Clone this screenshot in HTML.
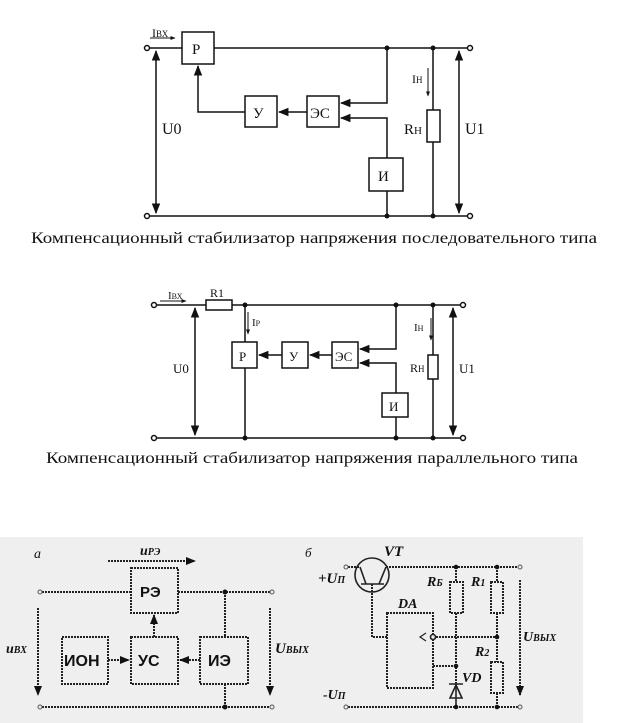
<!DOCTYPE html>
<html><head><meta charset="utf-8"><style>
body{margin:0;background:#fff;width:624px;height:723px;overflow:hidden}
svg{display:block}
text{font-family:"Liberation Serif",serif;fill:#111}
.b{font-family:"Liberation Sans",sans-serif;font-weight:bold}
.i{font-style:italic;font-weight:bold}
</style></head><body>
<svg width="624" height="723" viewBox="0 0 624 723" xmlns="http://www.w3.org/2000/svg">
<defs>
<marker id="a" viewBox="0 0 10 10" refX="9" refY="5" markerWidth="7" markerHeight="7" orient="auto-start-reverse"><path d="M0,1 L10,5 L0,9z" fill="#111"/></marker>
<marker id="s" viewBox="0 0 10 10" refX="9" refY="5" markerWidth="5" markerHeight="5" orient="auto-start-reverse"><path d="M0,1 L10,5 L0,9z" fill="#111"/></marker>
</defs>
<g stroke="#111" stroke-width="1.5" fill="none">
<line x1="149" y1="48" x2="182" y2="48"/><line x1="214" y1="48" x2="467" y2="48"/>
<line x1="149" y1="216" x2="467" y2="216"/>
<circle cx="147" cy="48" r="2.5" fill="#fff"/><circle cx="470" cy="48" r="2.5" fill="#fff"/>
<circle cx="147" cy="216" r="2.5" fill="#fff"/><circle cx="470" cy="216" r="2.5" fill="#fff"/>
<rect x="182" y="32" width="32" height="32"/>
<rect x="245" y="96" width="32" height="31"/>
<rect x="307" y="96" width="32" height="31"/>
<rect x="369" y="158" width="34" height="33"/>
<line x1="156" y1="51" x2="156" y2="213" marker-start="url(#a)" marker-end="url(#a)"/>
<line x1="459" y1="51" x2="459" y2="213" marker-start="url(#a)" marker-end="url(#a)"/>
<polyline points="387,48 387,103 341,103" marker-end="url(#a)"/>
<polyline points="387,158 387,118 341,118" marker-end="url(#a)"/>
<line x1="387" y1="191" x2="387" y2="216"/>
<line x1="307" y1="112" x2="279" y2="112" marker-end="url(#a)"/>
<polyline points="245,112 198,112 198,66" marker-end="url(#a)"/>
<line x1="433" y1="48" x2="433" y2="110"/><rect x="427" y="110" width="13" height="32"/><line x1="433" y1="142" x2="433" y2="216"/>
<line x1="428" y1="68" x2="428" y2="96" stroke-width="1" marker-end="url(#s)"/>
<line x1="150" y1="38" x2="175" y2="38" stroke-width="1" marker-end="url(#s)"/>
<line x1="157" y1="305" x2="206" y2="305"/><rect x="206" y="300" width="26" height="10"/><line x1="232" y1="305" x2="460" y2="305"/>
<line x1="157" y1="438" x2="460" y2="438"/>
<circle cx="154" cy="305" r="2.5" fill="#fff"/><circle cx="463" cy="305" r="2.5" fill="#fff"/>
<circle cx="154" cy="438" r="2.5" fill="#fff"/><circle cx="463" cy="438" r="2.5" fill="#fff"/>
<line x1="195" y1="308" x2="195" y2="435" marker-start="url(#a)" marker-end="url(#a)"/>
<line x1="453" y1="308" x2="453" y2="435" marker-start="url(#a)" marker-end="url(#a)"/>
<line x1="245" y1="305" x2="245" y2="342"/>
<rect x="232" y="342" width="25" height="26"/><line x1="245" y1="368" x2="245" y2="438"/>
<rect x="282" y="342" width="26" height="26"/>
<rect x="332" y="342" width="26" height="26"/>
<rect x="382" y="393" width="26" height="24"/>
<line x1="282" y1="355" x2="259" y2="355" marker-end="url(#a)"/>
<line x1="332" y1="355" x2="310" y2="355" marker-end="url(#a)"/>
<polyline points="396,305 396,349 360,349" marker-end="url(#a)"/>
<polyline points="396,393 396,363 360,363" marker-end="url(#a)"/>
<line x1="396" y1="417" x2="396" y2="438"/>
<line x1="433" y1="305" x2="433" y2="355"/><rect x="428" y="355" width="10" height="24"/><line x1="433" y1="379" x2="433" y2="438"/>
<line x1="431" y1="318" x2="431" y2="340" stroke-width="1" marker-end="url(#s)"/>
<line x1="248" y1="312" x2="248" y2="334" stroke-width="1" marker-end="url(#s)"/>
<line x1="160" y1="301" x2="186" y2="301" stroke-width="1" marker-end="url(#s)"/>
</g>
<g fill="#111">
<circle cx="387" cy="48" r="2.5"/><circle cx="433" cy="48" r="2.5"/><circle cx="387" cy="216" r="2.5"/><circle cx="433" cy="216" r="2.5"/>
<circle cx="245" cy="305" r="2.5"/><circle cx="396" cy="305" r="2.5"/><circle cx="433" cy="305" r="2.5"/>
<circle cx="245" cy="438" r="2.5"/><circle cx="396" cy="438" r="2.5"/><circle cx="433" cy="438" r="2.5"/>
</g>
<g font-size="15">
<text x="192" y="54">P</text><text x="253" y="118">У</text><text x="310" y="118">ЭС</text><text x="378" y="181">И</text>
<text x="162" y="134" font-size="16">U0</text><text x="465" y="134" font-size="16">U1</text><text x="404" y="134">R<tspan font-size="11">Н</tspan></text>
<text x="412" y="83" font-size="12">I<tspan font-size="9">Н</tspan></text>
<text x="152" y="37" font-size="12">I<tspan font-size="9">ВХ</tspan></text>
<text x="31" y="243" font-size="16" textLength="566" lengthAdjust="spacingAndGlyphs">Компенсационный стабилизатор напряжения последовательного типа</text>
<text x="239" y="361" font-size="13">P</text><text x="289" y="361" font-size="13">У</text><text x="335" y="361" font-size="13">ЭС</text><text x="389" y="411" font-size="13">И</text>
<text x="210" y="297" font-size="12">R1</text>
<text x="168" y="299" font-size="11">I<tspan font-size="8">ВХ</tspan></text>
<text x="252" y="326" font-size="11">I<tspan font-size="8">Р</tspan></text>
<text x="414" y="331" font-size="11">I<tspan font-size="8">Н</tspan></text>
<text x="410" y="372" font-size="12">R<tspan font-size="9">Н</tspan></text>
<text x="173" y="373" font-size="13">U0</text><text x="459" y="373" font-size="13">U1</text>
<text x="46" y="463" font-size="16" textLength="532" lengthAdjust="spacingAndGlyphs">Компенсационный стабилизатор напряжения параллельного типа</text>
</g>
<rect x="0" y="537" width="583" height="186" fill="#efefef"/>
<g stroke="#222" stroke-width="2" fill="none" stroke-dasharray="2,1">
<line x1="42" y1="592" x2="130" y2="592"/><line x1="178" y1="592" x2="270" y2="592"/>
<line x1="42" y1="707" x2="270" y2="707"/>
<rect x="131" y="568" width="47" height="45"/>
<rect x="62" y="637" width="46" height="47"/>
<rect x="131" y="637" width="47" height="47"/>
<rect x="200" y="637" width="48" height="47"/>
<line x1="225" y1="592" x2="225" y2="637"/><line x1="225" y1="684" x2="225" y2="707"/>
<line x1="108" y1="660" x2="129" y2="660" marker-end="url(#s)"/>
<line x1="200" y1="660" x2="180" y2="660" marker-end="url(#s)"/>
<line x1="154" y1="637" x2="154" y2="615" marker-end="url(#s)"/>
<line x1="38" y1="608" x2="38" y2="695" marker-end="url(#s)"/>
<line x1="270" y1="608" x2="270" y2="695" marker-end="url(#s)"/>
<line x1="108" y1="561" x2="195" y2="561" marker-end="url(#s)"/>
<line x1="348" y1="567" x2="360" y2="567"/><line x1="386" y1="567" x2="518" y2="567"/>
<line x1="348" y1="707" x2="518" y2="707"/>
<line x1="456" y1="567" x2="456" y2="582"/><rect x="450" y="582" width="13" height="31"/><line x1="456" y1="613" x2="456" y2="684"/>
<line x1="497" y1="567" x2="497" y2="582"/><rect x="491" y="582" width="12" height="31"/><line x1="497" y1="613" x2="497" y2="662"/>
<rect x="491" y="662" width="12" height="31"/><line x1="497" y1="693" x2="497" y2="707"/>
<rect x="387" y="613" width="46" height="75"/>
<polyline points="372,584 372,637 387,637"/>
<line x1="436" y1="637" x2="497" y2="637"/>
<line x1="433" y1="666" x2="456" y2="666"/>
<line x1="520" y1="580" x2="520" y2="695" marker-end="url(#s)"/>
</g>
<g stroke="#222" stroke-width="1.6" fill="none">
<circle cx="372" cy="575" r="17"/>
<line x1="361" y1="584" x2="384" y2="584"/>
<line x1="360" y1="567" x2="366" y2="584"/><line x1="386" y1="567" x2="379" y2="584"/>
<circle cx="433" cy="637" r="2.5" fill="#efefef"/>
<line x1="456" y1="684" x2="456" y2="707"/>
<path d="M449,684 L463,684 M450,698 L456,685 L462,698 Z"/>
<path d="M426,633 L420,637 L426,641" stroke-width="1.2"/>
</g>
<g fill="#111">
<circle cx="225" cy="592" r="2.5"/><circle cx="225" cy="707" r="2.5"/>
<circle cx="456" cy="567" r="2.3"/><circle cx="497" cy="567" r="2.3"/><circle cx="497" cy="637" r="2.3"/><circle cx="456" cy="666" r="2.3"/><circle cx="456" cy="707" r="2.3"/><circle cx="497" cy="707" r="2.3"/>
</g>
<g fill="#efefef" stroke="#555" stroke-width="1">
<circle cx="40" cy="592" r="2"/><circle cx="272" cy="592" r="2"/><circle cx="40" cy="707" r="2"/><circle cx="272" cy="707" r="2"/>
<circle cx="346" cy="567" r="2"/><circle cx="520" cy="567" r="2"/><circle cx="346" cy="707" r="2"/><circle cx="520" cy="707" r="2"/>
</g>
<g>
<text x="34" y="558" font-size="14" font-style="italic">а</text>
<text x="140" y="555" font-size="14" class="i">u<tspan font-size="10">РЭ</tspan></text>
<text x="140" y="597" font-size="15" class="b">РЭ</text>
<text x="64" y="666" font-size="16" class="b">ИОН</text>
<text x="138" y="666" font-size="16" class="b">УС</text>
<text x="208" y="666" font-size="16" class="b">ИЭ</text>
<text x="6" y="653" font-size="14" class="i">u<tspan font-size="10">ВХ</tspan></text>
<text x="275" y="653" font-size="15" class="i">U<tspan font-size="10">ВЫХ</tspan></text>
<text x="305" y="557" font-size="13" font-style="italic">б</text>
<text x="384" y="556" font-size="15" class="i">VT</text>
<text x="318" y="583" font-size="15" class="i">+U<tspan font-size="10">П</tspan></text>
<text x="427" y="586" font-size="14" class="i">R<tspan font-size="10">Б</tspan></text>
<text x="471" y="586" font-size="14" class="i">R<tspan font-size="10">1</tspan></text>
<text x="398" y="608" font-size="14" class="i">DA</text>
<text x="475" y="656" font-size="14" class="i">R<tspan font-size="10">2</tspan></text>
<text x="462" y="682" font-size="14" class="i">VD</text>
<text x="323" y="699" font-size="14" class="i">-U<tspan font-size="10">П</tspan></text>
<text x="523" y="641" font-size="14" class="i">U<tspan font-size="10">ВЫХ</tspan></text>
</g>
</svg>
</body></html>
